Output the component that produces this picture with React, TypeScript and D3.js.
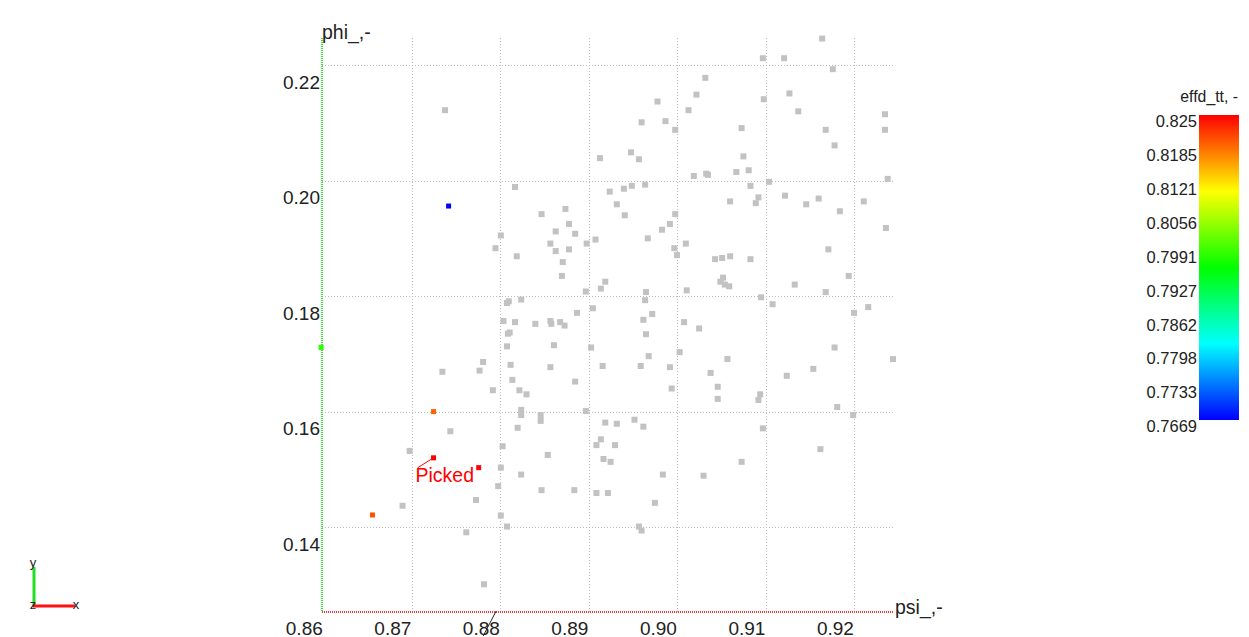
import React from "react";
import * as d3 from "d3";

// ---------- data ----------
const psiGray = [
  0.8737, 0.8816, 0.8846, 0.8873, 0.9163, 0.9096, 0.9120, 0.9175, 0.9031, 0.9021,
  0.9126, 0.8977, 0.9097, 0.9012, 0.9136, 0.9234, 0.8959, 0.8986, 0.8997, 0.9072,
  0.9167, 0.9234, 0.9177, 0.8912, 0.8947, 0.8956, 0.9074, 0.9018, 0.9032, 0.9034,
  0.9066, 0.9080, 0.9103, 0.9237, 0.8923, 0.8939, 0.8948, 0.8963, 0.9082, 0.8931,
  0.8940, 0.8997, 0.9059, 0.9091, 0.9088, 0.9121, 0.9145, 0.9159, 0.9183, 0.9210,
  0.8877, 0.8862, 0.8884, 0.8800, 0.8856, 0.8897, 0.8794, 0.8862, 0.8877, 0.8818,
  0.8870, 0.8869, 0.8896, 0.8807, 0.8809, 0.8823, 0.8886, 0.8803, 0.8816, 0.8839,
  0.8856, 0.8857, 0.8867, 0.8872, 0.8808, 0.8810, 0.8860, 0.8807, 0.8780, 0.8776,
  0.8734, 0.8811, 0.8856, 0.8813, 0.8884, 0.8791, 0.8821, 0.8829, 0.8823, 0.8823,
  0.8896, 0.8991, 0.8982, 0.9235, 0.8907, 0.8966, 0.9009, 0.8996, 0.8999, 0.9042,
  0.9050, 0.9059, 0.9082, 0.9170, 0.8918, 0.8913, 0.8964, 0.9010, 0.9051, 0.9048,
  0.9053, 0.9058, 0.9132, 0.9193, 0.9167, 0.8963, 0.9094, 0.9107, 0.8904, 0.9215,
  0.9199, 0.8961, 0.8971, 0.9007, 0.9024, 0.8964, 0.8902, 0.8967, 0.9002, 0.9056,
  0.9177, 0.9243, 0.8915, 0.8958, 0.8991, 0.9037, 0.9123, 0.9153, 0.8993, 0.9045,
  0.9045, 0.9093, 0.9091, 0.9180, 0.8845, 0.8845, 0.8819, 0.8802, 0.8853, 0.8800,
  0.8823, 0.8797, 0.8846, 0.8883, 0.8772, 0.8689, 0.8800, 0.8807, 0.8761, 0.8781,
  0.8743, 0.8697, 0.8918, 0.8931, 0.8951, 0.8961, 0.8908, 0.8913, 0.8929, 0.8916,
  0.8924, 0.8983, 0.8908, 0.8921, 0.8974, 0.8956, 0.8959, 0.9096, 0.9029, 0.9072,
  0.9198, 0.9161,
];
const phiGray = [
  0.2123, 0.1990, 0.1943, 0.1952, 0.2247, 0.2213, 0.2213, 0.2194, 0.2179, 0.2150,
  0.2152, 0.2138, 0.2142, 0.2123, 0.2121, 0.2116, 0.2102, 0.2104, 0.2089, 0.2092,
  0.2089, 0.2089, 0.2062, 0.2040, 0.2050, 0.2038, 0.2043, 0.2009, 0.2013, 0.2011,
  0.2016, 0.2019, 0.1999, 0.2004, 0.1982, 0.1987, 0.1992, 0.1994, 0.1992, 0.1960,
  0.1941, 0.1943, 0.1965, 0.1972, 0.1962, 0.1975, 0.1960, 0.1970, 0.1948, 0.1965,
  0.1926, 0.1913, 0.1909, 0.1906, 0.1892, 0.1892, 0.1884, 0.1879, 0.1882, 0.1870,
  0.1860, 0.1836, 0.1809, 0.1789, 0.1792, 0.1795, 0.1772, 0.1758, 0.1756, 0.1753,
  0.1758, 0.1753, 0.1756, 0.1750, 0.1736, 0.1738, 0.1716, 0.1714, 0.1687, 0.1672,
  0.1670, 0.1682, 0.1678, 0.1656, 0.1653, 0.1638, 0.1638, 0.1631, 0.1604, 0.1595,
  0.1602, 0.1926, 0.1916, 0.1919, 0.1899, 0.1901, 0.1892, 0.1884, 0.1872, 0.1865,
  0.1867, 0.1870, 0.1865, 0.1882, 0.1826, 0.1814, 0.1808, 0.1811, 0.1833, 0.1826,
  0.1821, 0.1818, 0.1821, 0.1836, 0.1808, 0.1794, 0.1799, 0.1787, 0.1780, 0.1782,
  0.1772, 0.1760, 0.1770, 0.1756, 0.1745, 0.1735, 0.1712, 0.1697, 0.1704, 0.1692,
  0.1712, 0.1692, 0.1680, 0.1680, 0.1678, 0.1668, 0.1663, 0.1675, 0.1641, 0.1644,
  0.1623, 0.1631, 0.1621, 0.1609, 0.1595, 0.1585, 0.1573, 0.1541, 0.1526, 0.1504,
  0.1492, 0.1472, 0.1465, 0.1465, 0.1448, 0.1438, 0.1421, 0.1402, 0.1392, 0.1302,
  0.1567, 0.1533, 0.1582, 0.1580, 0.1587, 0.1575, 0.1543, 0.1553, 0.1543, 0.1519,
  0.1514, 0.1492, 0.1460, 0.1460, 0.1443, 0.1402, 0.1395, 0.1572, 0.1490, 0.1514,
  0.1595, 0.1536,
];

const psiColored = [0.8741, 0.8597, 0.8724, 0.8724, 0.8775, 0.8655];
const phiColored = [0.1957, 0.1712, 0.1601, 0.1521, 0.1504, 0.1422];
const effColored = [0.7669, 0.7985, 0.8195, 0.8250, 0.8248, 0.8204];

const pickedIndex = 3;

const xTicks = [0.86, 0.87, 0.88, 0.89, 0.9, 0.91, 0.92];
const xTickLabels = ["0.86", "0.87", "0.88", "0.89", "0.90", "0.91", "0.92"];
const yTicks = [0.14, 0.16, 0.18, 0.2, 0.22];
const yTickLabels = ["0.14", "0.16", "0.18", "0.20", "0.22"];
const colorTickLabels = [
  "0.825", "0.8185", "0.8121", "0.8056", "0.7991",
  "0.7927", "0.7862", "0.7798", "0.7733", "0.7669",
];
const effDomain = [0.7669, 0.825];
const psiDomain = [0.8598, 0.9243];
const phiDomain = [0.1254, 0.2248];
const leaderPoint = { psi: 0.8797, phi: 0.1254 };

const FONT = "'Liberation Sans', Arial, Helvetica, sans-serif";

export default function App() {
  const W = 1249;
  const H = 637;
  const left = 322, right = 893, top = 38, bottom = 612;

  const x = d3.scaleLinear().domain(psiDomain).range([left, right]);
  const y = d3.scaleLinear().domain(phiDomain).range([bottom, top]);

  const hue = d3.scaleLinear().domain(effDomain).range([240, 0]).clamp(true);
  const colorOf = (v: number) => d3.hsl(hue(v), 1, 0.5).toString();

  const cbX = 1199, cbW = 40, cbTop = 115, cbBottom = 420;
  const cbY = d3.scaleLinear().domain(effDomain).range([cbBottom, cbTop]);
  const stops = d3.range(0, 1.0001, 0.05);

  const gridColor = "#bdbdbd";
  const textColor = "#222";

  const pxP = x(psiColored[pickedIndex]);
  const pyP = y(phiColored[pickedIndex]);

  return (
    <div style={{ position: "fixed", left: 0, top: 0, width: W, height: H, background: "#fff" }}>
      <svg width={W} height={H} style={{ display: "block", fontFamily: FONT }}>
        <defs>
          <linearGradient id="cbGrad" x1="0" y1="1" x2="0" y2="0">
            {stops.map((t, i) => (
              <stop
                key={i}
                offset={`${t * 100}%`}
                stopColor={colorOf(effDomain[0] + t * (effDomain[1] - effDomain[0]))}
              />
            ))}
          </linearGradient>
        </defs>
        <rect x={0} y={0} width={W} height={H} fill="#fff" />

        {/* grid */}
        {xTicks.slice(1).map((t, i) => (
          <line
            key={"gx" + i}
            x1={x(t)} x2={x(t)} y1={top} y2={bottom}
            stroke={gridColor} strokeWidth={1} strokeDasharray="1,2"
            shapeRendering="crispEdges"
          />
        ))}
        {yTicks.map((t, i) => (
          <line
            key={"gy" + i}
            x1={left} x2={right} y1={y(t)} y2={y(t)}
            stroke={gridColor} strokeWidth={1} strokeDasharray="1,2"
            shapeRendering="crispEdges"
          />
        ))}

        {/* axes */}
        <line x1={left} x2={left} y1={top} y2={bottom} stroke="#33dd33" strokeWidth={1.5} strokeDasharray="1,1" shapeRendering="crispEdges" />
        <line x1={left} x2={right} y1={bottom} y2={bottom} stroke="#ff3333" strokeWidth={1.5} strokeDasharray="1,1" shapeRendering="crispEdges" />

        {/* tick labels */}
        {yTicks.map((t, i) => (
          <text key={"yl" + i} x={left - 2} y={y(t) + 23} textAnchor="end" fontSize={19} fill={textColor}>
            {yTickLabels[i]}
          </text>
        ))}
        {xTicks.map((t, i) => (
          <text key={"xl" + i} x={x(t) - 1} y={634.5} textAnchor="end" fontSize={19} fill={textColor}>
            {xTickLabels[i]}
          </text>
        ))}
        <text x={left} y={39} fontSize={19.5} fill={textColor}>phi_,-</text>
        <text x={right + 2} y={614} fontSize={19.5} fill={textColor}>psi_,-</text>

        {/* gray points */}
        {psiGray.map((p, i) => (
          <rect
            key={"g" + i}
            x={x(p) - 3} y={y(phiGray[i]) - 3} width={6} height={6}
            fill="#c2c2c2"
          />
        ))}

        {/* colored points */}
        {psiColored.map((p, i) => (
          <rect
            key={"c" + i}
            x={x(p) - 2.5} y={y(phiColored[i]) - 2.5} width={5} height={5}
            fill={colorOf(effColored[i])}
          />
        ))}

        {/* picked annotation */}
        <line x1={pxP} y1={pyP} x2={pxP - 16} y2={pyP + 10} stroke="#ff0000" strokeWidth={1} />
        <text x={pxP - 18} y={pyP + 24} fontSize={19.5} fill="#ff0000">Picked</text>

        {/* leader at the bottom */}
        <line
          x1={x(leaderPoint.psi) - 2} y1={y(leaderPoint.phi) - 1}
          x2={x(leaderPoint.psi) - 15} y2={y(leaderPoint.phi) + 24}
          stroke="#222" strokeWidth={1}
        />

        {/* color bar */}
        <rect x={cbX} y={cbTop} width={cbW} height={cbBottom - cbTop} fill="url(#cbGrad)" />
        <text x={1238} y={102} textAnchor="end" fontSize={15.8} fill={textColor}>effd_tt, -</text>
        {colorTickLabels.map((s, i) => (
          <text key={"cl" + i} x={1197} y={cbY(parseFloat(s)) + 12} textAnchor="end" fontSize={16.5} fill={textColor}>
            {s}
          </text>
        ))}

        {/* orientation triad */}
        <line x1={34} x2={34} y1={567} y2={606} stroke="#22dd22" strokeWidth={3} />
        <line x1={33} x2={75} y1={606} y2={606} stroke="#ff1111" strokeWidth={3} />
        <text x={33} y={567} fontSize={13} textAnchor="middle" fill={textColor}>y</text>
        <text x={33} y={609} fontSize={13} textAnchor="middle" fill={textColor}>z</text>
        <text x={76} y={609} fontSize={13} textAnchor="middle" fill={textColor}>x</text>
      </svg>
    </div>
  );
}
